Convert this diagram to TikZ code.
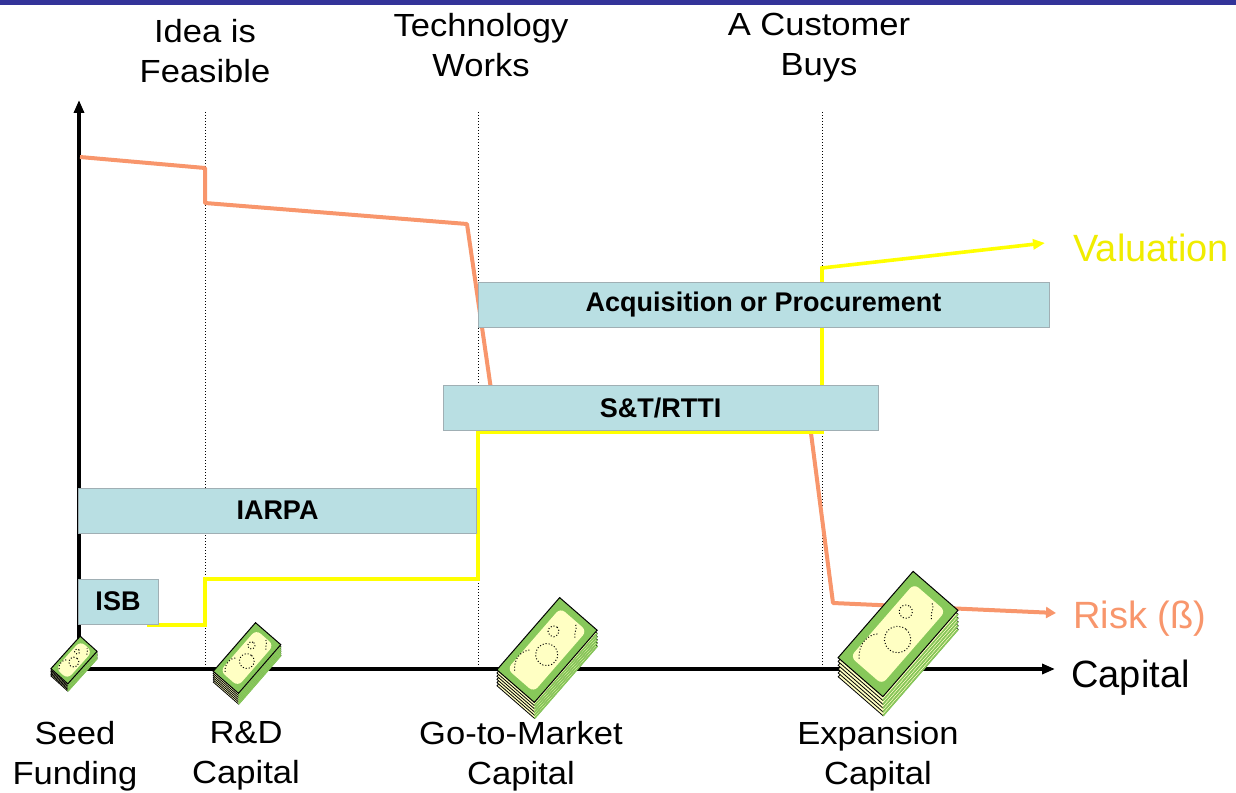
\documentclass[tikz,border=0pt]{standalone}
\usepackage{fontspec}
\setmainfont{Liberation Sans}
\newfontfamily\widefont[FakeStretch=1.08]{Liberation Sans}
\usetikzlibrary{arrows.meta}
\definecolor{riskc}{RGB}{248,150,108}
\definecolor{valc}{RGB}{255,255,0}
\definecolor{valtext}{RGB}{240,236,0}
\definecolor{boxc}{RGB}{185,223,227}
\definecolor{boxline}{RGB}{160,175,180}
\definecolor{barc}{RGB}{51,51,153}
\definecolor{billg}{RGB}{135,200,90}
\definecolor{billy}{RGB}{255,255,195}
\newcommand\moneystack[4]{%
\begin{scope}[shift={(#1,#2)}, scale=#3, rotate=#4]
  \foreach \k in {5,4,3,2,1} {
    \draw[line width=0.4pt, fill=billy] ({-52-2.6*\k},{-27+2.3*\k}) rectangle ++(104,54);
    \draw[billg, line width=0.8pt] ({-52-2.6*\k},{27+2.3*\k}) -- ++(104,0);
  }
  \draw[line width=0.5pt, fill=billg] (-52,-27) rectangle (52,27);
  \fill[billy, rounded corners=3pt] (-44,-19) rectangle (44,19);
  \draw[line width=0.5pt, densely dotted] (-4,3) circle[radius=12];
  \draw[line width=0.5pt, densely dotted] (20,-8) circle[radius=6];
  \draw[line width=0.5pt, densely dotted] (-40,-12) .. controls (-30,-22) and (-18,-20) .. (-12,-14);
  \draw[line width=0.5pt, densely dotted] (30,14) .. controls (36,8) and (40,10) .. (42,4);
\end{scope}}
\begin{document}
\begin{tikzpicture}[x=0.5pt,y=-0.5pt,
  box/.style={draw=boxline, line width=0.5pt, fill=boxc, minimum height=22.5pt, inner sep=0pt,
    font=\fontsize{13.5}{16}\selectfont\bfseries},
  toplabel/.style={align=center, inner sep=0pt, anchor=north,
    font=\widefont\fontsize{16}{20}\selectfont},
  sidelabel/.style={anchor=base west, inner sep=0pt, font=\fontsize{19}{22}\selectfont},
  axis/.style={line width=1.7pt, -{Triangle[width=5pt,length=6.5pt]}},
  guide/.style={densely dotted, line width=0.5pt},
  riskline/.style={riskc, line width=2pt, line join=round, -{Triangle[width=5.5pt,length=5pt]}},
  valline/.style={valc, line width=1.8pt, line join=miter, -{Triangle[width=5pt,length=6pt]}}]
\useasboundingbox (0,0) rectangle (1236,792);
\fill[barc] (0,0) rectangle (1236,5);

% coordinates
\coordinate (O) at (79,669);
\coordinate (ytip) at (79,100);
\coordinate (xtip) at (1055,669);
\coordinate (g1t) at (205,112); \coordinate (g1b) at (205,669);
\coordinate (g2t) at (478,112); \coordinate (g2b) at (478,669);
\coordinate (g3t) at (822,112); \coordinate (g3b) at (822,669);

% guides
\draw[guide] (g1t) -- (g1b);
\draw[guide] (g2t) -- (g2b);
\draw[guide] (g3t) -- (g3b);

% axes
\draw[axis] (O) -- (ytip);
\draw[axis] (O) -- (xtip);

% risk line
\coordinate (r1) at (80,157);
\coordinate (r2) at (205,168);
\coordinate (r3) at (205,203);
\coordinate (r4) at (467,224);
\coordinate (r5) at (494,410);
\coordinate (r6) at (808,410);
\coordinate (r7) at (833,603);
\coordinate (r8) at (1056,613);
\draw[riskline] (r1) -- (r2) -- (r3) -- (r4) -- (r5) -- (r6) -- (r7) -- (r8);

% valuation line
\coordinate (v1) at (147,625);
\coordinate (v2) at (205,625);
\coordinate (v3) at (205,579);
\coordinate (v4) at (478,579);
\coordinate (v5) at (478,432);
\coordinate (v6) at (822,432);
\coordinate (v7) at (822,268);
\coordinate (v8) at (1045,243);
\draw[valline] (v1) -- (v2) -- (v3) -- (v4) -- (v5) -- (v6) -- (v7) -- (v8);

% boxes
\node[box, minimum width=285.5pt] (acq) at (763.5,304.5) {Acquisition or Procurement};
\node[box, minimum width=217.5pt] (st) at (660.5,407.5) {S\&T/RTTI};
\node[box, minimum width=199pt] (iarpa) at (277.5,510.5) {IARPA};
\node[box, minimum width=40pt] (isb) at (118,601.5) {ISB};

% money
\moneystack{74}{660}{0.42}{48}
\moneystack{247}{658}{0.62}{49}
\moneystack{547}{650}{0.92}{49}
\moneystack{898}{634}{1.1}{49}

% top labels
\node[toplabel] (feas) at (205,19) {Idea is\\Feasible};
\node[toplabel] (tech) at (481,13) {Technology\\Works};
\node[toplabel] (cust) at (819,13) {A Customer\\Buys};

% bottom labels
\node[toplabel] (seed) at (75,721) {Seed\\Funding};
\node[toplabel] (rd) at (246,721) {R\&D\\Capital};
\node[toplabel] (gtm) at (521,721) {Go-to-Market\\Capital};
\node[toplabel] (exp) at (878,721) {Expansion\\Capital};

% side labels
\node[sidelabel, text=valtext] (val) at (1073,261) {Valuation};
\node[sidelabel, text=riskc] (risk) at (1073,628) {Risk (ß)};
\node[sidelabel] (cap) at (1071,687) {Capital};
\end{tikzpicture}
\end{document}
